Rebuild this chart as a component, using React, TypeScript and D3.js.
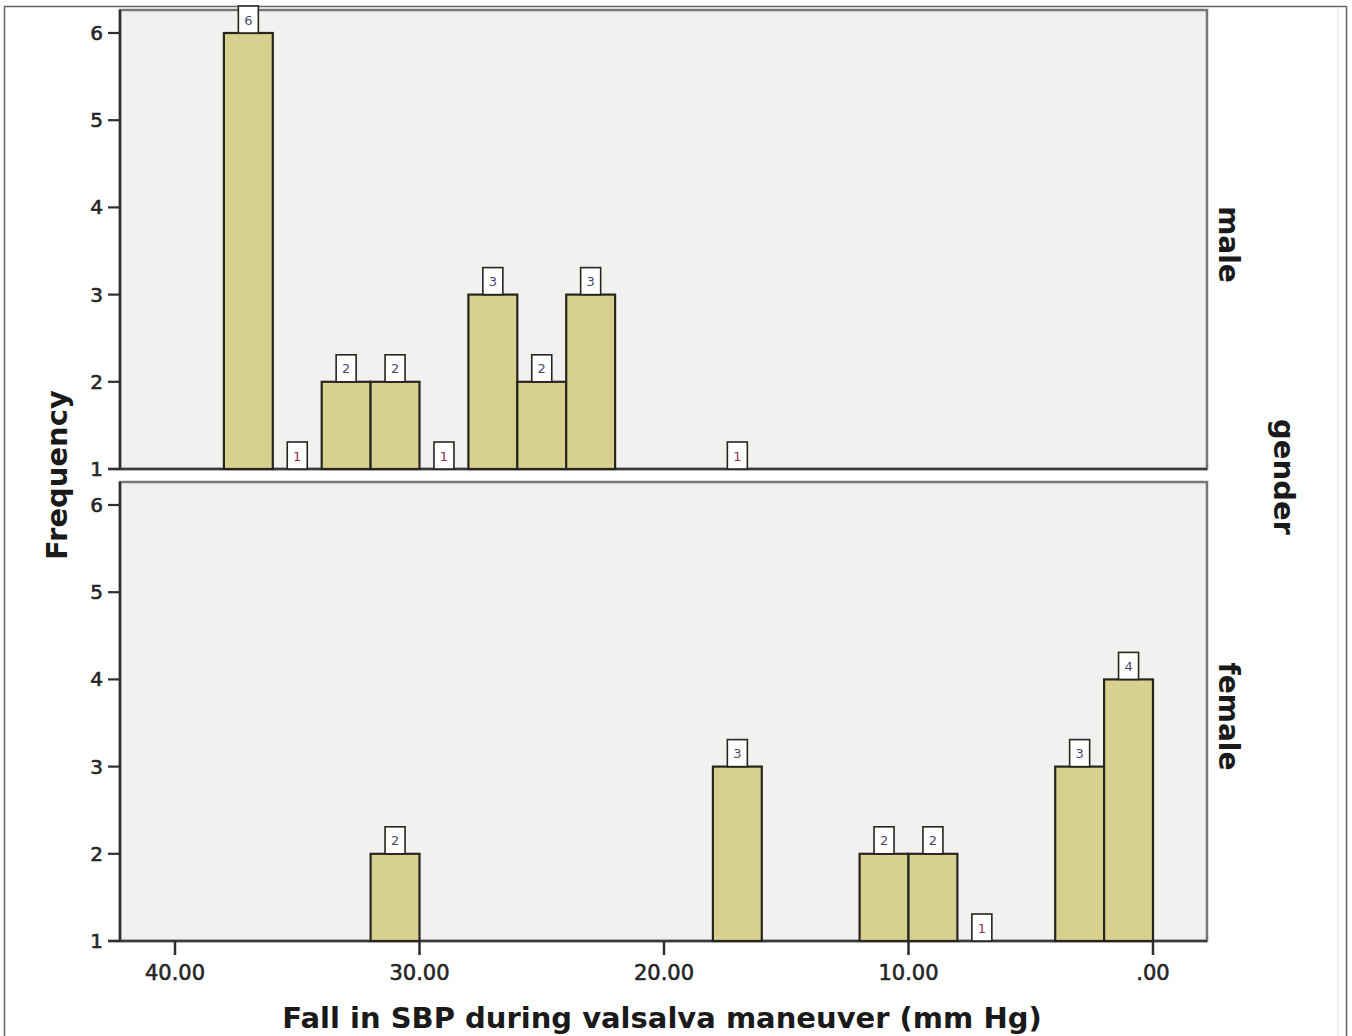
import React, { useEffect, useRef } from 'react';
import * as d3 from 'd3';

// bin lower edges (mm Hg) and counts, bin width 2
const binWidth = 2;
const maleBins = [36, 34, 32, 30, 28, 26, 24, 22, 16];
const maleCounts = [6, 1, 2, 2, 1, 3, 2, 3, 1];
const femaleBins = [30, 16, 10, 8, 6, 2, 0];
const femaleCounts = [2, 3, 2, 2, 1, 3, 4];

const xTicks = [40, 30, 20, 10, 0];
const yTicks = [1, 2, 3, 4, 5, 6];

const W = 1352;
const H = 1036;
const FONT = '"DejaVu Sans", sans-serif';

const App: React.FC = () => {
  const svgRef = useRef<SVGSVGElement>(null);

  useEffect(() => {
    if (!svgRef.current) return;
    const svg = d3.select(svgRef.current);
    svg.selectAll('*').remove();

    const left = 120;
    const right = 1207;
    const x = d3.scaleLinear().domain([40, 0]).range([175, 1153]);

    const panels = [
      { name: 'male', bins: maleBins, counts: maleCounts, top: 10, bottom: 469 },
      { name: 'female', bins: femaleBins, counts: femaleCounts, top: 482, bottom: 941 },
    ];

    // outer frame
    svg.append('rect')
      .attr('x', 4.5).attr('y', 6.5)
      .attr('width', 1342).attr('height', H)
      .attr('fill', '#fff')
      .attr('stroke', '#666').attr('stroke-width', 1.5);
    svg.append('line')
      .attr('x1', 1338).attr('x2', 1338).attr('y1', 7).attr('y2', H)
      .attr('stroke', '#e2e2e2').attr('stroke-width', 1);

    panels.forEach(p => {
      const y = d3.scaleLinear().domain([1, 6]).range([p.bottom, p.bottom - 436]);
      const g = svg.append('g');

      // panel background + frame
      g.append('rect')
        .attr('x', left).attr('y', p.top)
        .attr('width', right - left).attr('height', p.bottom - p.top)
        .attr('fill', '#f3f1ef')
        .attr('stroke', '#777').attr('stroke-width', 2.5);

      // axis lines
      g.append('line')
        .attr('x1', left).attr('x2', left).attr('y1', p.top).attr('y2', p.bottom)
        .attr('stroke', '#2e2e2e').attr('stroke-width', 2.5);
      g.append('line')
        .attr('x1', 108).attr('x2', right).attr('y1', p.bottom).attr('y2', p.bottom)
        .attr('stroke', '#3a3a3a').attr('stroke-width', 2.5);

      // bars
      p.bins.forEach((lo, i) => {
        const c = p.counts[i];
        const x0 = x(lo + binWidth);
        const x1 = x(lo);
        g.append('rect')
          .attr('x', x0).attr('y', y(c))
          .attr('width', x1 - x0).attr('height', y(1) - y(c))
          .attr('fill', '#d7d08f')
          .attr('stroke', '#26261e').attr('stroke-width', c === 1 ? 3 : 2.2);
      });

      // y ticks
      yTicks.forEach(t => {
        g.append('line')
          .attr('x1', 108).attr('x2', left).attr('y1', y(t)).attr('y2', y(t))
          .attr('stroke', '#2e2e2e').attr('stroke-width', 2.2);
        g.append('text')
          .attr('x', 103).attr('y', y(t))
          .attr('text-anchor', 'end')
          .attr('dominant-baseline', 'central')
          .attr('font-family', FONT).attr('font-size', 20)
          .attr('fill', '#262626').attr('stroke', '#262626').attr('stroke-width', 0.6)
          .text(t);
      });

      // count labels
      p.bins.forEach((lo, i) => {
        const c = p.counts[i];
        const cx = (x(lo) + x(lo + binWidth)) / 2;
        const by = y(c);
        g.append('rect')
          .attr('x', cx - 10).attr('y', by - 27)
          .attr('width', 20).attr('height', 27)
          .attr('fill', '#fff')
          .attr('stroke', '#26261e').attr('stroke-width', 1.6);
        g.append('text')
          .attr('x', cx).attr('y', by - 13)
          .attr('text-anchor', 'middle')
          .attr('dominant-baseline', 'central')
          .attr('font-family', FONT).attr('font-size', 13)
          .attr('fill', c === 1 ? '#8a3550' : '#4e4868')
          .text(c);
      });

      // panel label on the right
      g.append('text')
        .attr('transform', `translate(1219,${(p.top + p.bottom) / 2 + 5}) rotate(90)`)
        .attr('text-anchor', 'middle')
        .attr('font-family', FONT).attr('font-size', 28).attr('font-weight', 'bold')
        .attr('fill', '#1a1a1a')
        .text(p.name);
    });

    // x axis ticks (bottom panel only)
    const bottom = panels[1].bottom;
    xTicks.forEach(t => {
      svg.append('line')
        .attr('x1', x(t)).attr('x2', x(t)).attr('y1', bottom).attr('y2', bottom + 14)
        .attr('stroke', '#2e2e2e').attr('stroke-width', 2.5);
      svg.append('text')
        .attr('x', x(t)).attr('y', bottom + 39)
        .attr('text-anchor', 'middle')
        .attr('font-family', FONT).attr('font-size', 21)
        .attr('fill', '#262626').attr('stroke', '#262626').attr('stroke-width', 0.6)
        .text(t === 0 ? '.00' : t.toFixed(2));
    });

    // titles
    svg.append('text')
      .attr('x', 662).attr('y', 1028)
      .attr('text-anchor', 'middle')
      .attr('font-family', FONT).attr('font-size', 29).attr('font-weight', 'bold')
      .attr('fill', '#1a1a1a')
      .text('Fall in SBP during valsalva maneuver (mm Hg)');

    svg.append('text')
      .attr('transform', 'translate(67,475) rotate(-90)')
      .attr('text-anchor', 'middle')
      .attr('font-family', FONT).attr('font-size', 29).attr('font-weight', 'bold')
      .attr('fill', '#1a1a1a')
      .text('Frequency');

    svg.append('text')
      .attr('transform', 'translate(1274,477) rotate(90)')
      .attr('text-anchor', 'middle')
      .attr('font-family', FONT).attr('font-size', 29).attr('font-weight', 'bold')
      .attr('fill', '#1a1a1a')
      .text('gender');
  }, []);

  return (
    <div style={{ position: 'absolute', left: 0, top: 0 }}>
      <svg ref={svgRef} width={W} height={H} style={{ display: 'block' }} />
    </div>
  );
};

export default App;
